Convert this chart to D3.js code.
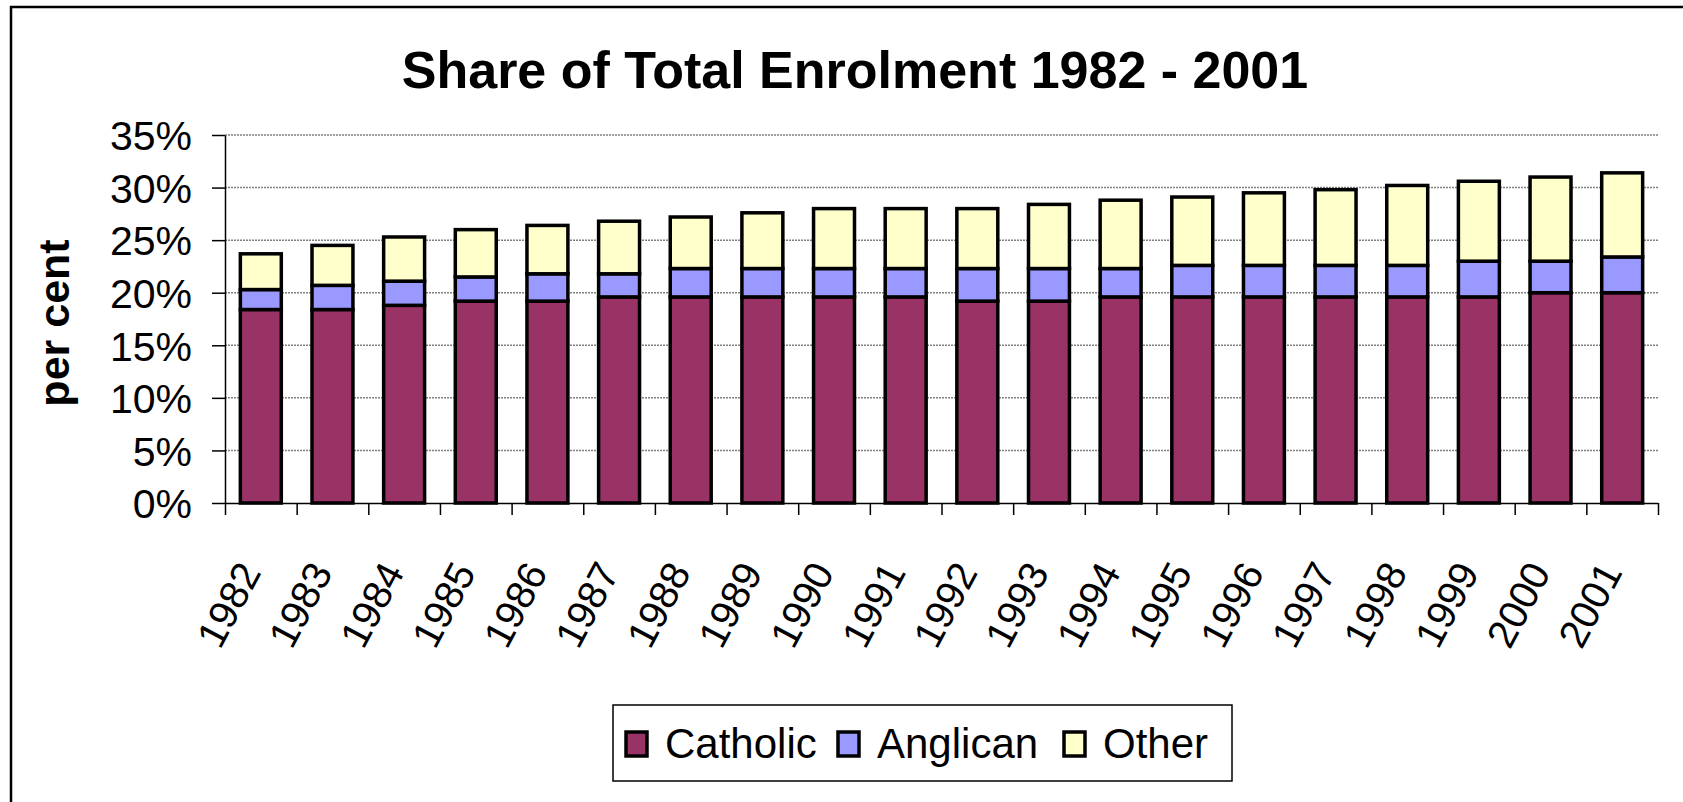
<!DOCTYPE html>
<html>
<head>
<meta charset="utf-8">
<script src="https://cdn.jsdelivr.net/npm/d3@7"></script>
<style>
  body { margin: 0; background: #fff; }
  svg text { font-family: "Liberation Sans", Arial, sans-serif; fill: #000; }
</style>
</head>
<body>
<div class="graph"></div>
<script>
let years = ["1982", "1983", "1984", "1985", "1986", "1987", "1988", "1989", "1990", "1991",
  "1992", "1993", "1994", "1995", "1996", "1997", "1998", "1999", "2000", "2001"];
let catholic = [18.4, 18.4, 18.8, 19.2, 19.2, 19.6, 19.6, 19.6, 19.6, 19.6,
  19.2, 19.2, 19.6, 19.6, 19.6, 19.6, 19.6, 19.6, 20.0, 20.0];
let anglican = [1.9, 2.3, 2.3, 2.3, 2.6, 2.2, 2.7, 2.7, 2.7, 2.7,
  3.1, 3.1, 2.7, 3.0, 3.0, 3.0, 3.0, 3.4, 3.0, 3.4];
let other = [3.4, 3.8, 4.2, 4.5, 4.6, 5.0, 4.9, 5.3, 5.7, 5.7,
  5.7, 6.1, 6.5, 6.5, 6.9, 7.2, 7.6, 7.6, 8.0, 8.0];
let seriesNames = ["Catholic", "Anglican", "Other"];
let colors = ["#993366", "#9999FF", "#FFFFCC"];
let yTicks = [0, 5, 10, 15, 20, 25, 30, 35];

let w = 1683;
let h = 802;
let plotLeft = 225, plotRight = 1658, plotTop = 135, plotBottom = 503;

let svg = d3.select(".graph").append("svg").attr("width", w).attr("height", h);

// chart border (runs off the right and bottom edges)
svg.append("rect")
  .attr("x", 11).attr("y", 7)
  .attr("width", 1700).attr("height", 830)
  .attr("fill", "#fff").attr("stroke", "#000").attr("stroke-width", 2.5);

let rows = years.map((y, i) => ({
  year: y, Catholic: catholic[i], Anglican: anglican[i], Other: other[i]
}));
let stacked = d3.stack().keys(seriesNames)(rows);

let gap = 0.75 / 1.75;
let xScale = d3.scaleBand().domain(years).range([plotLeft, plotRight])
  .paddingInner(gap).paddingOuter(gap / 2);
let yScale = d3.scaleLinear().domain([0, 35]).range([plotBottom, plotTop]);

// gridlines
svg.append("g")
  .selectAll("line")
  .data(yTicks.slice(1))
  .enter()
  .append("line")
  .attr("x1", plotLeft).attr("x2", plotRight)
  .attr("y1", (d) => yScale(d)).attr("y2", (d) => yScale(d))
  .attr("stroke", "#808080").attr("stroke-width", 1.5)
  .attr("stroke-dasharray", "2,1");

// bars
svg.append("g")
  .selectAll("g")
  .data(stacked)
  .enter()
  .append("g")
  .attr("fill", (d, i) => colors[i])
  .selectAll("rect")
  .data((d) => d)
  .enter()
  .append("rect")
  .attr("x", (d) => xScale(d.data.year))
  .attr("y", (d) => yScale(d[1]))
  .attr("width", xScale.bandwidth())
  .attr("height", (d) => yScale(d[0]) - yScale(d[1]))
  .attr("stroke", "#000")
  .attr("stroke-width", 3.5);

// y axis
let yAxis = d3.axisLeft(yScale).tickValues(yTicks)
  .tickFormat((d) => d + "%").tickSize(13).tickPadding(20).tickSizeOuter(0);
let gy = svg.append("g").attr("transform", "translate(" + plotLeft + ",0)").call(yAxis);
gy.select(".domain").attr("stroke", "#000").attr("stroke-width", 1.5);
gy.selectAll(".tick line").attr("stroke", "#000").attr("stroke-width", 1.5);
gy.selectAll(".tick text")
  .attr("font-size", 41).attr("font-family", "Liberation Sans, Arial, sans-serif")
  .attr("dy", "0.36em");

// x axis: ticks at category boundaries
let edge = d3.scaleLinear().domain([0, years.length]).range([plotLeft, plotRight]);
let xAxis = d3.axisBottom(edge).tickValues(d3.range(years.length + 1))
  .tickFormat("").tickSize(12).tickSizeOuter(0);
let gx = svg.append("g").attr("transform", "translate(0," + plotBottom + ")").call(xAxis);
gx.select(".domain").attr("stroke", "#000").attr("stroke-width", 1.5);
gx.selectAll(".tick line").attr("stroke", "#000").attr("stroke-width", 1.5);

svg.append("g")
  .selectAll("text")
  .data(years)
  .enter()
  .append("text")
  .attr("text-anchor", "end")
  .attr("font-size", 40)
  .attr("transform", (d) =>
    "translate(" + (xScale(d) + xScale.bandwidth() / 2 + 1) + ",572) rotate(-62)")
  .text((d) => d);

// title
svg.append("text")
  .attr("x", 855).attr("y", 88)
  .attr("text-anchor", "middle")
  .attr("font-size", 52).attr("font-weight", "bold")
  .text("Share of Total Enrolment 1982 - 2001");

// y axis title
svg.append("text")
  .attr("transform", "translate(69,323) rotate(-90)")
  .attr("text-anchor", "middle")
  .attr("font-size", 43).attr("font-weight", "bold")
  .text("per cent");

// legend
let legend = svg.append("g");
legend.append("rect")
  .attr("x", 613).attr("y", 705).attr("width", 619).attr("height", 76)
  .attr("fill", "#fff").attr("stroke", "#000").attr("stroke-width", 1.5);
let legendX = [626, 838, 1064];
seriesNames.forEach(function (name, i) {
  legend.append("rect")
    .attr("x", legendX[i]).attr("y", 732)
    .attr("width", 21).attr("height", 24)
    .attr("fill", colors[i]).attr("stroke", "#000").attr("stroke-width", 3.5);
  legend.append("text")
    .attr("x", legendX[i] + 39).attr("y", 758)
    .attr("font-size", 42)
    .text(name);
});
</script>
</body>
</html>
